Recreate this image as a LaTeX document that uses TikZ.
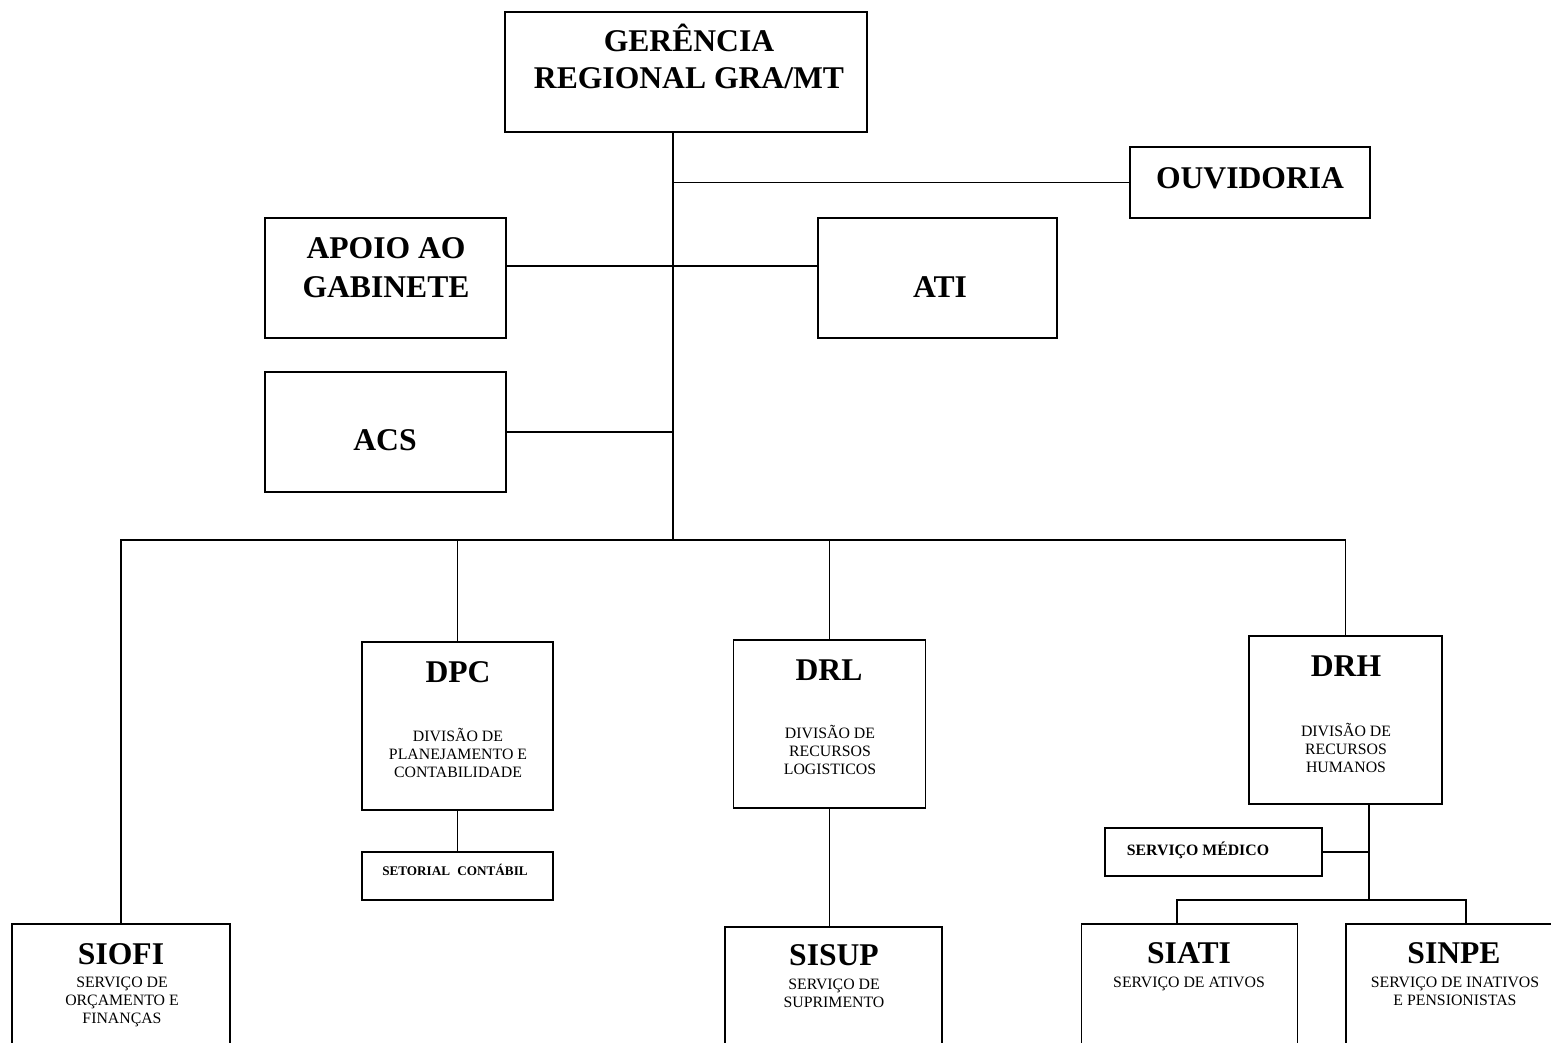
\documentclass[tikz,border=0pt]{standalone}
\usepackage{fontspec}
\setmainfont{Liberation Serif}
\usepackage{tikz}

\tikzset{
  unit/.style={draw, line width=1pt, inner sep=0pt},
  ttl/.style={font=\fontsize{18}{20.7}\selectfont\bfseries, align=center, anchor=base, inner sep=0pt},
  sub/.style={font=\fontsize{9}{10.2}\selectfont, align=center, anchor=base, inner sep=0pt},
  tiny/.style={font=\fontsize{7.5}{9}\selectfont\bfseries, anchor=base, inner sep=0pt},
  link/.style={line width=1pt}
}

\begin{document}
\begin{tikzpicture}[x=0.02cm, y=-0.02cm]
    %%Frame
    \useasboundingbox (0,0) rectangle (1551,1042);
    \clip (0,0) rectangle (1551,1042);
    %%Top
    \node[unit, minimum width=7.24cm, minimum height=2.4cm] (ger) at (686,72) {};
    \node[ttl] (ger-t) at (689,88) {GERÊNCIA\\REGIONAL GRA/MT};
    \node[unit, minimum width=4.8cm, minimum height=1.42cm] (ouv) at (1250,182.5) {};
    \node[ttl] (ouv-t) at (1250,188) {OUVIDORIA};
    %%Staff
    \node[unit, minimum width=4.82cm, minimum height=2.4cm] (apoio) at (385.5,278) {};
    \node[ttl] (apoio-t) at (386,297) {APOIO AO\\[1.5pt]GABINETE};
    \node[unit, minimum width=4.78cm, minimum height=2.4cm] (ati) at (937.5,278) {};
    \node[ttl] (ati-t) at (940,297) {ATI};
    \node[unit, minimum width=4.82cm, minimum height=2.4cm] (acs) at (385.5,432) {};
    \node[ttl] (acs-t) at (385,450) {ACS};
    %%Divisions
    \node[unit, minimum width=3.82cm, minimum height=3.36cm] (dpc) at (457.5,726) {};
    \node[ttl] (dpc-t) at (458,682) {DPC};
    \node[sub] (dpc-s) at (458,777) {DIVISÃO DE\\PLANEJAMENTO E\\CONTABILIDADE};
    \node[unit, minimum width=3.82cm, minimum height=0.96cm] (setor) at (457.5,876) {};
    \node[tiny] (setor-t) at (455,875) {SETORIAL\hspace{0.55em}CONTÁBIL};
    \node[unit, minimum width=3.84cm, minimum height=3.36cm] (drl) at (829.5,724) {};
    \node[ttl] (drl-t) at (829,680) {DRL};
    \node[sub] (drl-s) at (830,774) {DIVISÃO DE\\RECURSOS\\LOGISTICOS};
    \node[unit, minimum width=3.86cm, minimum height=3.36cm] (drh) at (1345.5,720) {};
    \node[ttl] (drh-t) at (1346,676) {DRH};
    \node[sub] (drh-s) at (1346,772) {DIVISÃO DE\\RECURSOS\\HUMANOS};
    \node[unit, minimum width=4.34cm, minimum height=0.96cm] (med) at (1213.5,852) {};
    \node[font=\fontsize{9}{10}\selectfont\bfseries, anchor=base, inner sep=0pt] (med-t) at (1198,855) {SERVIÇO MÉDICO};
    %%Services
    \node[unit, minimum width=4.36cm, minimum height=2.8cm] (siofi) at (121,994) {};
    \node[ttl] (siofi-t) at (121,964) {SIOFI};
    \node[sub] (siofi-s) at (122,1023) {SERVIÇO DE\\ORÇAMENTO E\\FINANÇAS};
    \node[unit, minimum width=4.34cm, minimum height=2.8cm] (sisup) at (833.5,997) {};
    \node[ttl] (sisup-t) at (834,965) {SISUP};
    \node[sub] (sisup-s) at (834,1007) {SERVIÇO DE\\SUPRIMENTO};
    \node[unit, minimum width=4.32cm, minimum height=2.8cm] (siati) at (1189.5,994) {};
    \node[ttl] (siati-t) at (1189,963) {SIATI};
    \node[sub] (siati-s) at (1189,987) {SERVIÇO DE ATIVOS};
    \node[unit, minimum width=4.32cm, minimum height=2.8cm] (sinpe) at (1454,994) {};
    \node[ttl] (sinpe-t) at (1454,963) {SINPE};
    \node[sub] (sinpe-s) at (1455,1005) {SERVIÇO DE INATIVOS\\E PENSIONISTAS};
    %%Lines
    \coordinate (hub) at (673,540);
    \coordinate (rh) at (1369,900);
    \draw[link] (ger.south -| hub) -- (hub);
    \draw[link] (ouv.west) -- (ouv.west -| hub);
    \draw[link] ([yshift=0.24cm]apoio.east) -- ([yshift=0.24cm]ati.west);
    \draw[link] (acs.east) -- (acs.east -| hub);
    \draw[link] (siofi.north) |- (hub) -| (drh.north);
    \draw[link] (dpc.north) -- (dpc.north |- hub);
    \draw[link] (drl.north) -- (drl.north |- hub);
    \draw[link] (dpc.south) -- (setor.north);
    \draw[link] (drl.south) -- (drl.south |- sisup.north);
    \draw[link] (rh |- drh.south) -- (rh);
    \draw[link] (med.east) -- (med.east -| rh);
    \draw[link] ([xshift=-0.25cm]siati.north) |- (rh) -| ([xshift=0.24cm]sinpe.north);
\end{tikzpicture}
\end{document}
